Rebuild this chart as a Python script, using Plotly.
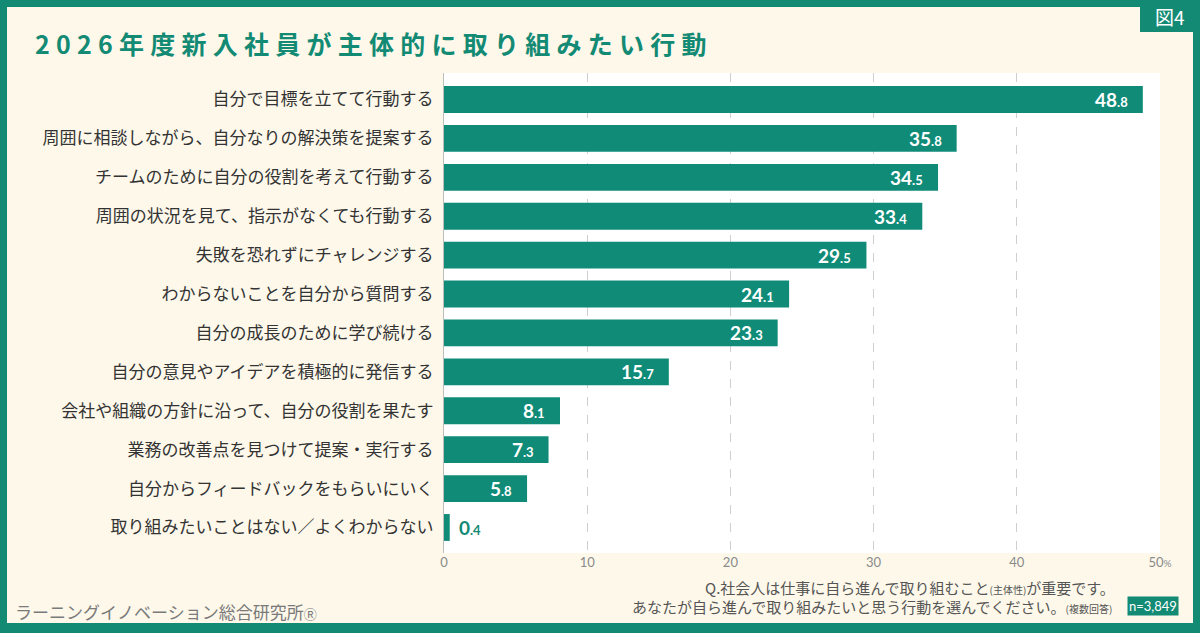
import plotly.graph_objects as go

# ---------------- data ----------------
categories = [
    "自分で目標を立てて行動する",
    "周囲に相談しながら、自分なりの解決策を提案する",
    "チームのために自分の役割を考えて行動する",
    "周囲の状況を見て、指示がなくても行動する",
    "失敗を恐れずにチャレンジする",
    "わからないことを自分から質問する",
    "自分の成長のために学び続ける",
    "自分の意見やアイデアを積極的に発信する",
    "会社や組織の方針に沿って、自分の役割を果たす",
    "業務の改善点を見つけて提案・実行する",
    "自分からフィードバックをもらいにいく",
    "取り組みたいことはない／よくわからない",
]
values = [48.8, 35.8, 34.5, 33.4, 29.5, 24.1, 23.3, 15.7, 8.1, 7.3, 5.8, 0.4]
tick_values = [0, 10, 20, 30, 40, 50]
tick_labels = ["0", "10", "20", "30", "40", "50<span style='font-size:10px'>%</span>"]

title_text = "2026年度新入社員が主体的に取り組みたい行動"
figure_no = "図4"
source_text = "ラーニングイノベーション総合研究所<span style='font-size:13px'>Ⓡ</span>"
question_line1 = "Q.社会人は仕事に自ら進んで取り組むこと<span style='font-size:10px'>(主体性)</span>が重要です。"
question_line2 = "あなたが自ら進んで取り組みたいと思う行動を選んでください。<span style='font-size:10px'>(複数回答)</span>"
n_text = "n=3,849"

# ---------------- style ----------------
TEAL = "#138a74"
BAR = "#0f8b78"
CREAM = "#fdf8ea"
JP = "Noto Sans CJK JP"
NUM = "Lato"

W, H = 1200, 633
L, R, T, B = 444, 40, 73, 80
PW, PH = W - L - R, H - T - B


def px(x):
    return (x - L) / PW


def py(y):
    return (H - B - y) / PH


fig = go.Figure()
fig.add_trace(go.Bar(
    x=values, y=categories, orientation="h",
    marker=dict(color=BAR, line=dict(width=0)),
    width=0.69, hoverinfo="skip",
))

annotations = []
for cat, v in zip(categories, values):
    whole, dec = f"{v:.1f}".split(".")
    txt = f"<b>{whole}<span style='font-size:13px'>.{dec}</span></b>"
    if v >= 3:
        annotations.append(dict(x=v, y=cat, xref="x", yref="y", text=txt,
                                showarrow=False, xanchor="right", xshift=-13,
                                font=dict(family=NUM, size=19, color="white")))
    else:
        annotations.append(dict(x=v, y=cat, xref="x", yref="y", text=txt,
                                showarrow=False, xanchor="left", xshift=7,
                                font=dict(family=NUM, size=19, color=TEAL)))

# title
annotations.append(dict(x=px(33), y=py(43), xref="paper", yref="paper",
                        text="<b>" + "\u2005".join(title_text) + "</b>",
                        showarrow=False, xanchor="left", yanchor="middle",
                        font=dict(family=JP, size=25, color=TEAL)))
# figure number badge text
annotations.append(dict(x=px(1170), y=py(16), xref="paper", yref="paper",
                        text=figure_no, showarrow=False, xanchor="center", yanchor="middle",
                        font=dict(family=JP, size=19, color="white")))
# source
annotations.append(dict(x=px(13), y=py(611), xref="paper", yref="paper",
                        text=source_text, showarrow=False, xanchor="left", yanchor="middle",
                        font=dict(family=JP, size=17, color="#7a7a7a")))
# question lines
annotations.append(dict(x=px(1117), y=py(587), xref="paper", yref="paper",
                        text=question_line1, showarrow=False, xanchor="right", yanchor="middle",
                        font=dict(family=JP, size=15, color="#555555")))
annotations.append(dict(x=px(1114), y=py(606), xref="paper", yref="paper",
                        text=question_line2, showarrow=False, xanchor="right", yanchor="middle",
                        font=dict(family=JP, size=15, color="#555555")))
annotations.append(dict(x=px(1179), y=py(606), xref="paper", yref="paper",
                        text=n_text, showarrow=False, xanchor="right", yanchor="middle",
                        bgcolor=TEAL, borderpad=1,
                        font=dict(family=NUM, size=13, color="white")))

shapes = [
    dict(type="rect", xref="paper", yref="paper", x0=px(0), x1=px(7), y0=py(H), y1=py(0),
         fillcolor=TEAL, line=dict(width=0)),
    dict(type="rect", xref="paper", yref="paper", x0=px(1193), x1=px(W), y0=py(H), y1=py(0),
         fillcolor=TEAL, line=dict(width=0)),
    dict(type="rect", xref="paper", yref="paper", x0=px(0), x1=px(W), y0=py(7), y1=py(0),
         fillcolor=TEAL, line=dict(width=0)),
    dict(type="rect", xref="paper", yref="paper", x0=px(0), x1=px(W), y0=py(H), y1=py(623),
         fillcolor=TEAL, line=dict(width=0)),
    dict(type="rect", xref="paper", yref="paper", x0=px(1140), x1=px(W), y0=py(32), y1=py(0),
         fillcolor=TEAL, line=dict(width=0)),
]

fig.update_layout(
    width=W, height=H,
    margin=dict(l=L, r=R, t=T, b=B, pad=0),
    paper_bgcolor=CREAM, plot_bgcolor="white",
    showlegend=False,
    annotations=annotations, shapes=shapes,
    xaxis=dict(range=[0, 50], tickvals=tick_values, ticktext=tick_labels,
               showgrid=False, zeroline=False, showline=False, ticks="",
               tickfont=dict(family=NUM, size=13, color="#8a8a8a"),
               minor=dict(tickvals=[10, 20, 30, 40], showgrid=True, griddash="dash",
                          gridcolor="#cfcfcf", gridwidth=1, ticks="")),
    yaxis=dict(range=[11.656, -0.681], showgrid=False, zeroline=False,
               showline=True, linecolor="#bdbdbd", linewidth=1, ticks="",
               ticklabelstandoff=6,
               tickfont=dict(family=JP, size=17, color="#333333")),
)

fig.write_html("out.html")
